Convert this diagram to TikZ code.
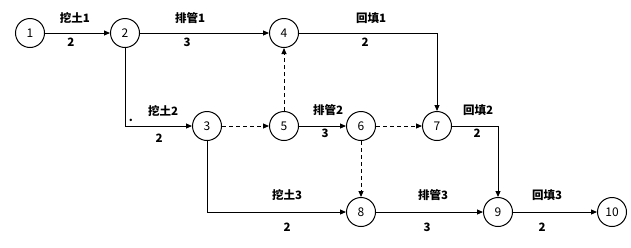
\documentclass[tikz,border=0pt]{standalone}
\usepackage{fontspec}
\setmainfont{Noto Sans CJK SC}
\usetikzlibrary{arrows.meta}
\begin{document}
\begin{tikzpicture}[x=1pt,y=-1pt,
  ev/.style={circle,draw,line width=1pt,minimum size=29pt,inner sep=0pt,font=\fontsize{12}{14}\selectfont},
  act/.style={line width=0.9pt,-{Triangle[length=6pt,width=5pt]}},
  dum/.style={act,dashed,dash pattern=on 4pt off 3pt},
  lab/.style={font=\fontsize{11.5}{13}\selectfont\bfseries,inner sep=0pt}]
\useasboundingbox (0,0) rectangle (631,247);
\node[ev] (n1) at (30,33) {1};
\node[ev] (n2) at (125,33) {2};
\node[ev] (n4) at (284,33) {4};
\node[ev] (n3) at (207,126) {3};
\node[ev] (n5) at (284,126) {5};
\node[ev] (n6) at (361,126) {6};
\node[ev] (n7) at (437,126) {7};
\node[ev] (n8) at (361,212) {8};
\node[ev] (n9) at (498,212) {9};
\node[ev] (n10) at (612,212) {10};
% corners
\coordinate (c24) at (n2 |- n3);
\coordinate (c47) at (n7 |- n4);
\coordinate (c79) at (n9 |- n7);
\coordinate (c38) at (n3 |- n8);
% edges
\draw[act] (n1) -- (n2);
\draw[act] (n2) -- (n4);
\draw[act] (n4.east) -- (c47) -- (n7.north);
\draw[act] (n2.south) -- (c24) -- (n3.west);
\draw[dum] (n3) -- (n5);
\draw[dum] (n5) -- (n4);
\draw[act] (n5) -- (n6);
\draw[dum] (n6) -- (n7);
\draw[dum] (n6) -- (n8);
\draw[act] (n7.east) -- (c79) -- (n9.north);
\draw[act] (n3.south) -- (c38) -- (n8.west);
\draw[act] (n8) -- (n9);
\draw[act] (n9) -- (n10);
% labels
\node[lab] (l1a) at (75,18) {挖土1};
\node[lab] (l1b) at (71,42) {2};
\node[lab] (l2a) at (190,18) {排管1};
\node[lab] (l2b) at (187,42) {3};
\node[lab] (l3a) at (371,18) {回填1};
\node[lab] (l3b) at (365,42) {2};
\node[lab] (l4a) at (163,111) {挖土2};
\node[lab] (l4b) at (159,138) {2};
\node[lab] (dot) at (131,120) {.};
\node[lab] (l5a) at (328,110) {排管2};
\node[lab] (l5b) at (325,133) {3};
\node[lab] (l6a) at (478,110) {回填2};
\node[lab] (l6b) at (477,133) {2};
\node[lab] (l7a) at (287,195) {挖土3};
\node[lab] (l7b) at (287,227) {2};
\node[lab] (l8a) at (433,195) {排管3};
\node[lab] (l8b) at (427,227) {3};
\node[lab] (l9a) at (547,195) {回填3};
\node[lab] (l9b) at (542,227) {2};
\end{tikzpicture}
\end{document}
